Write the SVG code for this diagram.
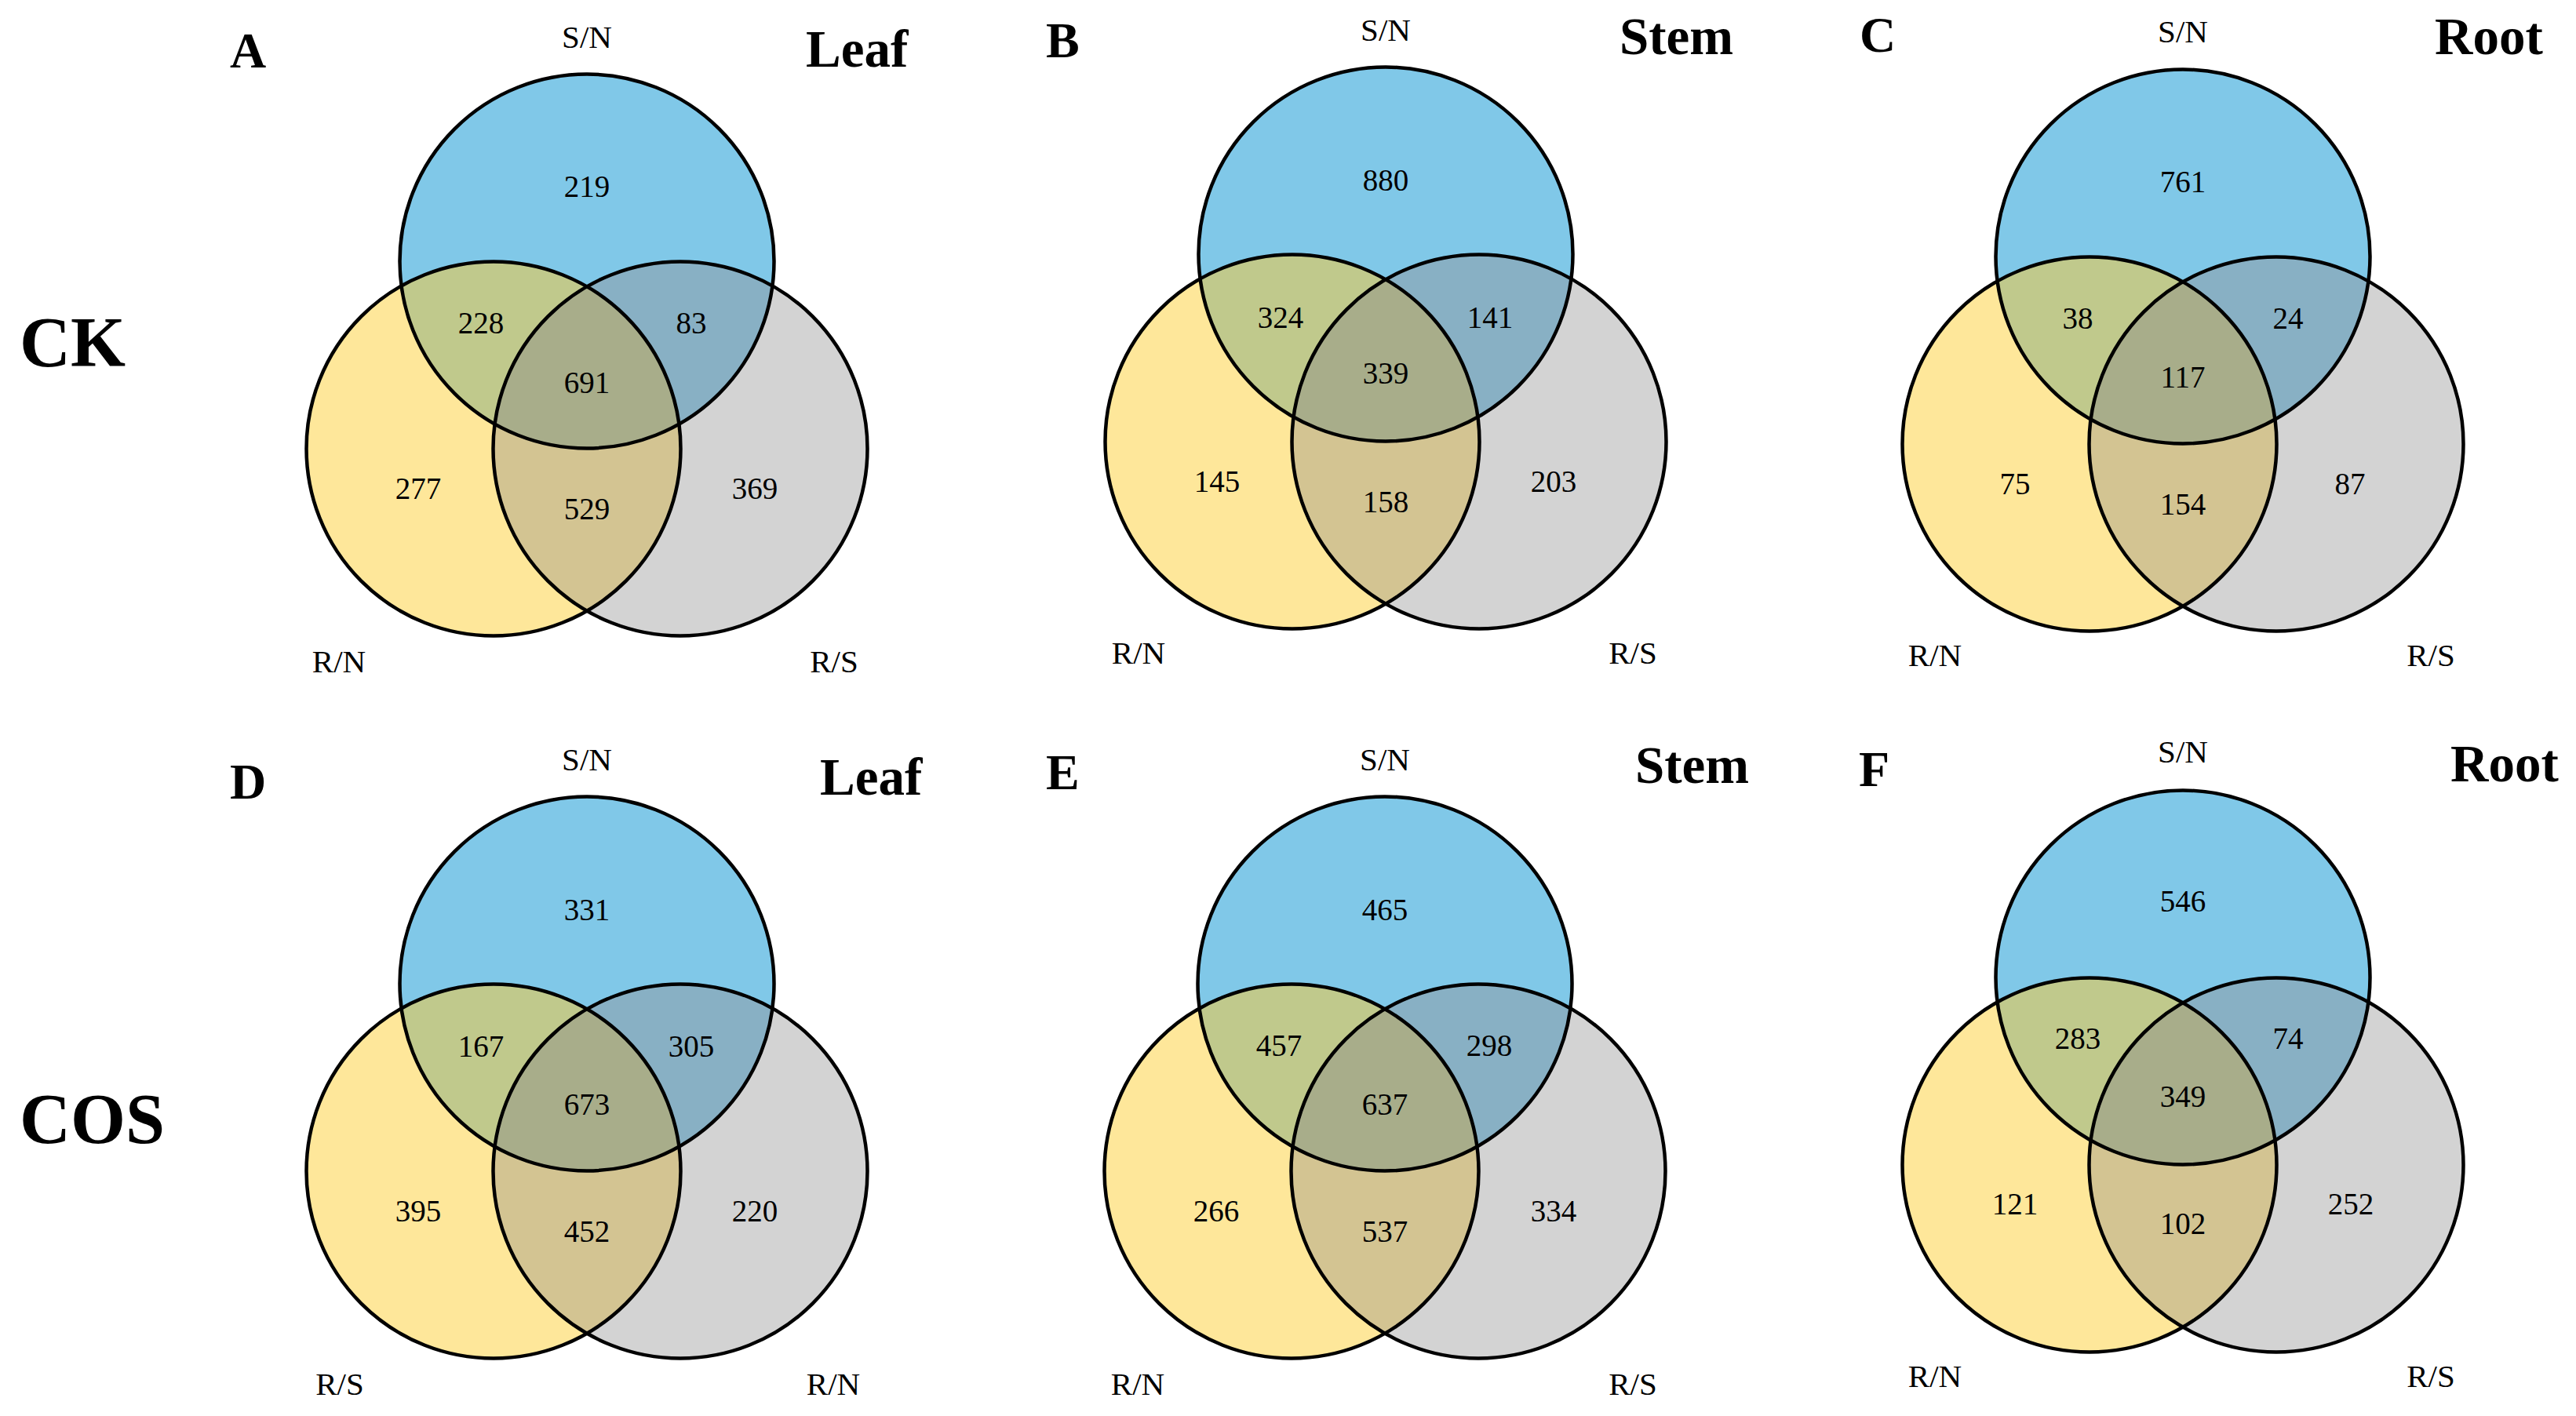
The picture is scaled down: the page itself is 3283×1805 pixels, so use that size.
<svg xmlns="http://www.w3.org/2000/svg" xmlns:xlink="http://www.w3.org/1999/xlink" width="3283" height="1805" viewBox="0 0 3283 1805" font-family="'Liberation Serif', 'Times New Roman', serif">
<style>
text{font-family:"Liberation Serif","Times New Roman",serif;fill:#000}
.num{font-size:39px;text-anchor:middle}
.lab{font-size:41px;text-anchor:middle}
.pl{font-size:64px;font-weight:bold}
.ts{font-size:67px;font-weight:bold}
.grp{font-size:90px;font-weight:bold}
.ol{fill:none;stroke:#000;stroke-width:4.5}
</style>
<defs>
<clipPath id="clipB" clipPathUnits="userSpaceOnUse"><circle cx="0" cy="0" r="238.5"/></clipPath>
<clipPath id="clipY" clipPathUnits="userSpaceOnUse"><circle cx="-119" cy="239" r="238.5"/></clipPath>
<g id="venn">
<circle cx="-119" cy="239" r="238.5" fill="#FEE79A"/>
<circle cx="119" cy="239" r="238.5" fill="#D3D3D3"/>
<circle cx="119" cy="239" r="238.5" fill="#D3C492" clip-path="url(#clipY)"/>
<circle cx="0" cy="0" r="238.5" fill="#80C8E8"/>
<circle cx="-119" cy="239" r="238.5" fill="#C0C98C" clip-path="url(#clipB)"/>
<circle cx="119" cy="239" r="238.5" fill="#88B0C4" clip-path="url(#clipB)"/>
<g clip-path="url(#clipY)"><circle cx="119" cy="239" r="238.5" fill="#A8AD8A" clip-path="url(#clipB)"/></g>
<circle class="ol" cx="0" cy="0" r="238.5"/>
<circle class="ol" cx="-119" cy="239" r="238.5"/>
<circle class="ol" cx="119" cy="239" r="238.5"/>
</g>
</defs>

<g id="row-labels">
<text class="grp" x="25" y="467">CK</text>
<text class="grp" x="25" y="1457">COS</text>
</g>

<g id="panel-A" transform="translate(748,333)">
<use xlink:href="#venn" href="#venn"/>
<text class="pl" x="-455" y="-247">A</text>
<text class="ts" x="279" y="-248">Leaf</text>
<text class="lab" x="0" y="-272">S/N</text>
<text class="lab" x="-316" y="524">R/N</text>
<text class="lab" x="315" y="524">R/S</text>
<text class="num" x="0" y="-82">219</text>
<text class="num" x="-135" y="92">228</text>
<text class="num" x="133" y="92">83</text>
<text class="num" x="0" y="168">691</text>
<text class="num" x="-215" y="303">277</text>
<text class="num" x="0" y="329">529</text>
<text class="num" x="214" y="303">369</text>
</g>

<g id="panel-B" transform="translate(1766,324)">
<use xlink:href="#venn" href="#venn"/>
<text class="pl" x="-433" y="-251">B</text>
<text class="ts" x="298" y="-255">Stem</text>
<text class="lab" x="0" y="-272">S/N</text>
<text class="lab" x="-315" y="522">R/N</text>
<text class="lab" x="315" y="522">R/S</text>
<text class="num" x="0" y="-81">880</text>
<text class="num" x="-134" y="94">324</text>
<text class="num" x="133" y="94">141</text>
<text class="num" x="0" y="165">339</text>
<text class="num" x="-215" y="303">145</text>
<text class="num" x="0" y="329">158</text>
<text class="num" x="214" y="303">203</text>
</g>

<g id="panel-C" transform="translate(2782,327)">
<use xlink:href="#venn" href="#venn"/>
<text class="pl" x="-412" y="-261">C</text>
<text class="ts" x="321" y="-258">Root</text>
<text class="lab" x="0" y="-273">S/N</text>
<text class="lab" x="-316" y="522">R/N</text>
<text class="lab" x="316" y="522">R/S</text>
<text class="num" x="0" y="-82">761</text>
<text class="num" x="-134" y="92">38</text>
<text class="num" x="134" y="92">24</text>
<text class="num" x="0" y="167">117</text>
<text class="num" x="-214" y="303">75</text>
<text class="num" x="0" y="329">154</text>
<text class="num" x="213" y="303">87</text>
</g>

<g id="panel-D" transform="translate(748,1254)">
<use xlink:href="#venn" href="#venn"/>
<text class="pl" x="-455" y="-236">D</text>
<text class="ts" x="297" y="-241">Leaf</text>
<text class="lab" x="0" y="-272">S/N</text>
<text class="lab" x="-315" y="524">R/S</text>
<text class="lab" x="314" y="524">R/N</text>
<text class="num" x="0" y="-81">331</text>
<text class="num" x="-135" y="93">167</text>
<text class="num" x="133" y="93">305</text>
<text class="num" x="0" y="167">673</text>
<text class="num" x="-215" y="303">395</text>
<text class="num" x="0" y="329">452</text>
<text class="num" x="214" y="303">220</text>
</g>

<g id="panel-E" transform="translate(1765,1254)">
<use xlink:href="#venn" href="#venn"/>
<text class="pl" x="-432" y="-248">E</text>
<text class="ts" x="319" y="-256">Stem</text>
<text class="lab" x="0" y="-272">S/N</text>
<text class="lab" x="-315" y="524">R/N</text>
<text class="lab" x="316" y="524">R/S</text>
<text class="num" x="0" y="-81">465</text>
<text class="num" x="-135" y="92">457</text>
<text class="num" x="133" y="92">298</text>
<text class="num" x="0" y="167">637</text>
<text class="num" x="-215" y="303">266</text>
<text class="num" x="0" y="329">537</text>
<text class="num" x="215" y="303">334</text>
</g>

<g id="panel-F" transform="translate(2782,1246)">
<use xlink:href="#venn" href="#venn"/>
<text class="pl" x="-413" y="-244">F</text>
<text class="ts" x="341" y="-250">Root</text>
<text class="lab" x="0" y="-274">S/N</text>
<text class="lab" x="-316" y="522">R/N</text>
<text class="lab" x="316" y="522">R/S</text>
<text class="num" x="0" y="-84">546</text>
<text class="num" x="-134" y="91">283</text>
<text class="num" x="134" y="91">74</text>
<text class="num" x="0" y="165">349</text>
<text class="num" x="-214" y="302">121</text>
<text class="num" x="0" y="327">102</text>
<text class="num" x="214" y="302">252</text>
</g>
</svg>
